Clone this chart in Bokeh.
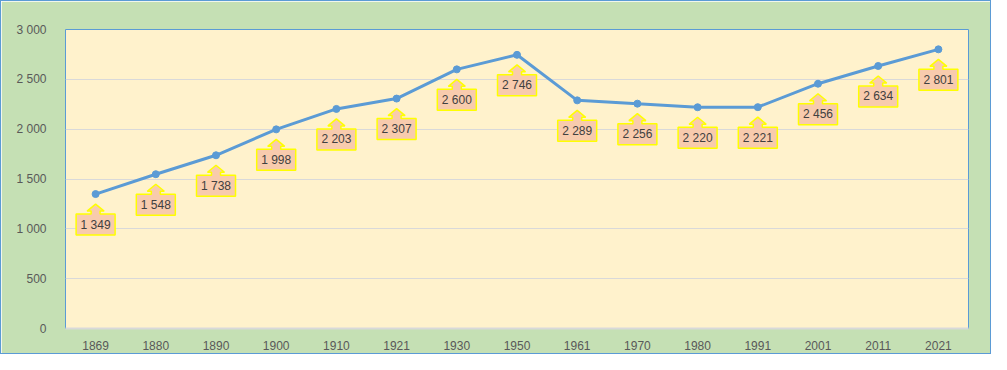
from bokeh.plotting import figure
from bokeh.models import Range1d, FixedTicker, ColumnDataSource
from bokeh.core.properties import value
from bokeh.embed import file_html
from bokeh.resources import INLINE

years = ["1869", "1880", "1890", "1900", "1910", "1921", "1930", "1950",
         "1961", "1970", "1980", "1991", "2001", "2011", "2021"]
population = [1349, 1548, 1738, 1998, 2203, 2307, 2600, 2746,
              2289, 2256, 2220, 2221, 2456, 2634, 2801]
y_ticks = [0, 500, 1000, 1500, 2000, 2500, 3000]
y_tick_labels = ["0", "500", "1 000", "1 500", "2 000", "2 500", "3 000"]
labels = [f"{v:,}".replace(",", " ") for v in population]

W, H = 991, 354
BL, BR, BT, BB = 64, 24, 28, 27
FW, FH = W - BL - BR, H - BT - BB
YMAX = 3000
n = len(years)
sx = n / FW          # data units per pixel (x)
sy = YMAX / FH       # data units per pixel (y)

p = figure(width=W, height=H, output_backend="svg", toolbar_location=None,
           x_range=Range1d(-0.5, n - 0.5), y_range=Range1d(0, YMAX),
           min_border_left=BL, min_border_right=BR, min_border_top=BT,
           min_border_bottom=BB)
p.border_fill_color = "#C5E0B4"
p.background_fill_color = "#FFF2CC"
p.outline_line_color = "#5B9BD5"
p.outline_line_width = 1
p.styles = {"border": "1px solid #5B9BD5", "box-sizing": "border-box"}

xs = list(range(n))
p.line(xs, population, line_color="#5B9BD5", line_width=3)
p.scatter(xs, population, size=7, fill_color="#5B9BD5", line_color="#5B9BD5")

# callout shapes (box + upward arrow) below each point, offsets in pixels
shape = [(0, 10), (8.5, 17), (4.5, 17), (4.5, 20), (19.5, 20), (19.5, 41),
         (-19.5, 41), (-19.5, 20), (-4.5, 20), (-4.5, 17), (-8.5, 17)]
px, py = [], []
for i, v in enumerate(population):
    px.append([i + dx * sx for dx, dy in shape])
    py.append([v - dy * sy for dx, dy in shape])
p.patches(px, py, fill_color="#F8CBAD", line_color="#FFFF00", line_width=1.5)

src = ColumnDataSource(dict(x=xs, y=[v - 30.5 * sy for v in population], t=labels))
p.text(x="x", y="y", text="t", source=src, text_align="center",
       text_baseline="middle", text_font=value("Liberation Sans"),
       text_font_size="12px", text_color="#404040")

p.xaxis.ticker = FixedTicker(ticks=xs)
p.xaxis.major_label_overrides = {i: y for i, y in enumerate(years)}
p.yaxis.ticker = FixedTicker(ticks=y_ticks)
p.yaxis.major_label_overrides = {t: l for t, l in zip(y_ticks, y_tick_labels)}

for ax in (p.xaxis[0], p.yaxis[0]):
    ax.major_tick_line_color = None
    ax.minor_tick_line_color = None
    ax.major_label_text_font = "Liberation Sans"
    ax.major_label_text_font_size = "12px"
    ax.major_label_text_color = "#595959"
p.xaxis.axis_line_color = "#D9D9D9"
p.xaxis.axis_line_width = 2
p.yaxis.axis_line_color = None
p.xaxis.major_label_standoff = 6
p.yaxis.major_label_standoff = 13

p.xgrid.grid_line_color = None
p.ygrid.grid_line_color = "#D9D9D9"

open("out.html", "w").write(file_html(p, INLINE))
